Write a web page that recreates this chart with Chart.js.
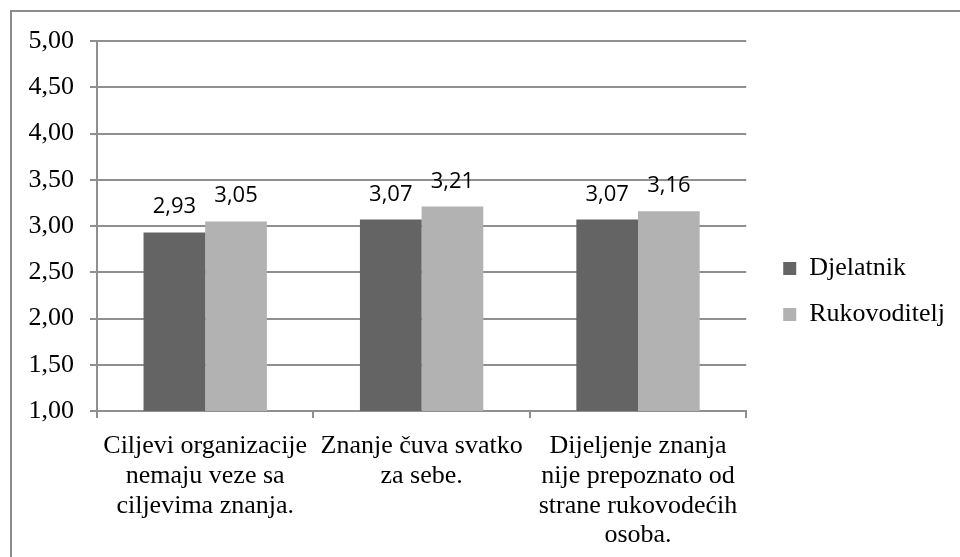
<!DOCTYPE html>
<html>
<head>
<meta charset="utf-8">
<script src="https://cdn.jsdelivr.net/npm/chart.js@4.4.0/dist/chart.umd.min.js"></script>
<style>
  html, body { margin: 0; padding: 0; background: #fff; overflow: hidden; }
  #wrap { position: relative; width: 960px; height: 557px; }
  #frame {
    position: absolute; left: 10px; top: 10px; width: 1000px; height: 600px;
    border-top: 2px solid #8c8c8c; border-left: 2px solid #8c8c8c;
    pointer-events: none;
  }
</style>
</head>
<body>
<div id="wrap">
  <canvas id="barChart" width="960" height="557"></canvas>
  <div id="frame"></div>
</div>
<script>
const categories = [
    ["Ciljevi organizacije", "nemaju veze sa", "ciljevima znanja."],
    ["Znanje čuva svatko", "za sebe."],
    ["Dijeljenje znanja", "nije prepoznato od", "strane rukovodećih", "osoba."]
];
const seriesNames = ["Djelatnik", "Rukovoditelj"];
const djelatnik = [2.93, 3.07, 3.07];
const rukovoditelj = [3.05, 3.21, 3.16];
const yTicks = [1.0, 1.5, 2.0, 2.5, 3.0, 3.5, 4.0, 4.5, 5.0];

const serif = "'Liberation Serif', 'Times New Roman', serif";
const gridColor = '#8f8f8f';

function fmt(v) {
    return v.toFixed(2).replace('.', ',');
}

// value labels above each bar
const valueLabels = {
    id: 'valueLabels',
    afterDatasetsDraw(chart) {
        const ctx = chart.ctx;
        ctx.save();
        ctx.font = "22px 'Open Sans', sans-serif";
        ctx.fillStyle = '#000';
        ctx.textAlign = 'center';
        ctx.textBaseline = 'alphabetic';
        chart.data.datasets.forEach((ds, i) => {
            chart.getDatasetMeta(i).data.forEach((bar, j) => {
                ctx.fillText(fmt(ds.data[j]), bar.x, bar.y - 19);
            });
        });
        ctx.restore();
    }
};

document.addEventListener("DOMContentLoaded", function () {
    const ctx = document.getElementById('barChart').getContext('2d');
    new Chart(ctx, {
        type: 'bar',
        data: {
            labels: categories,
            datasets: [{
                label: seriesNames[0],
                data: djelatnik,
                backgroundColor: '#646464',
                categoryPercentage: 0.57,
                barPercentage: 1.0
            }, {
                label: seriesNames[1],
                data: rukovoditelj,
                backgroundColor: '#b2b2b2',
                categoryPercentage: 0.57,
                barPercentage: 1.0
            }]
        },
        options: {
            responsive: false,
            animation: false,
            layout: { padding: { top: 41, bottom: 15, left: 0, right: 5 } },
            plugins: {
                tooltip: { enabled: false },
                legend: {
                    position: 'right',
                    maxWidth: 300,
                    labels: {
                        boxWidth: 13,
                        boxHeight: 13,
                        padding: 20,
                        color: '#000',
                        font: { family: serif, size: 26 }
                    }
                }
            },
            scales: {
                x: {
                    grid: {
                        drawOnChartArea: false,
                        drawTicks: true,
                        tickLength: 7,
                        color: gridColor,
                        lineWidth: 2
                    },
                    border: { color: gridColor, width: 2 },
                    ticks: {
                        color: '#000',
                        font: { family: serif, size: 26, lineHeight: 1.15 },
                        maxRotation: 0,
                        autoSkip: false,
                        padding: 13
                    },
                    afterFit: s => { s.height = 131; }
                },
                y: {
                    min: 1,
                    max: 5,
                    afterBuildTicks: s => { s.ticks = yTicks.map(v => ({ value: v })); },
                    grid: {
                        color: gridColor,
                        lineWidth: 2,
                        tickLength: 7
                    },
                    border: { color: gridColor, width: 2 },
                    ticks: {
                        color: '#000',
                        font: { family: serif, size: 26 },
                        padding: 16,
                        callback: v => fmt(v)
                    },
                    afterFit: s => { s.width = 97; }
                },
                gap: {
                    position: 'right',
                    display: true,
                    grid: { display: false },
                    border: { display: false },
                    ticks: { display: false },
                    afterFit: s => { s.width = 17; }
                }
            }
        },
        plugins: [valueLabels]
    });
});
</script>
</body>
</html>
